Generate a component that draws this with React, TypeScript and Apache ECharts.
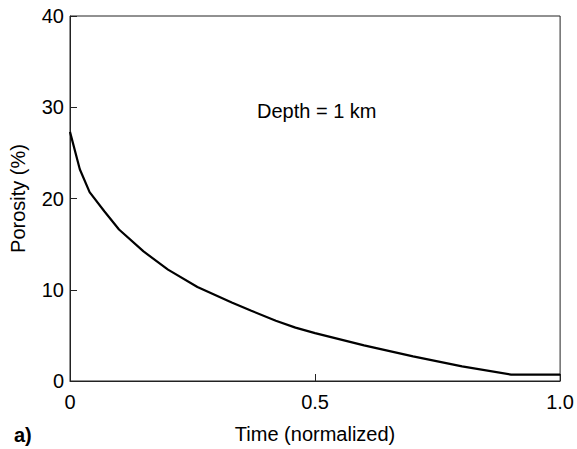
import React, { useEffect, useRef } from "react";
import * as echarts from "echarts";

const timeValues = [0, 0.02, 0.04, 0.07, 0.1, 0.15, 0.2, 0.26, 0.33, 0.37, 0.42, 0.46, 0.5, 0.6, 0.7, 0.8, 0.9, 1.0];
const porosityValues = [27.3, 23.2, 20.7, 18.6, 16.6, 14.2, 12.2, 10.3, 8.6, 7.7, 6.6, 5.85, 5.25, 3.9, 2.7, 1.6, 0.7, 0.7];
const xTickLabels: Record<string, string> = { "0": "0", "0.5": "0.5", "1": "1.0" };
const annotation = "Depth = 1 km";
const panelLabel = "a)";

const FONT = "'Liberation Sans', Arial, Helvetica, sans-serif";

export default function App() {
  const ref = useRef<HTMLDivElement>(null);
  useEffect(() => {
    document.body.style.margin = "0";
    if (!ref.current) return;
    const chart = echarts.init(ref.current, undefined, { renderer: "svg" });
    chart.setOption({
      animation: false,
      textStyle: { fontFamily: FONT },
      grid: {
        left: 70,
        top: 16,
        right: 15.5,
        bottom: 67.3,
        show: true,
        borderColor: "#222",
        borderWidth: 1,
      },
      xAxis: {
        type: "value",
        min: 0,
        max: 1,
        interval: 0.5,
        name: "Time (normalized)",
        nameLocation: "middle",
        nameGap: 43,
        nameTextStyle: { fontSize: 20, color: "#000", fontFamily: FONT },
        axisLine: { show: true, lineStyle: { color: "#222", width: 1 } },
        axisTick: { show: true, inside: true, length: 7, lineStyle: { color: "#222" } },
        axisLabel: {
          fontSize: 20,
          color: "#000",
          margin: 11,
          fontFamily: FONT,
          formatter: (v: number) => xTickLabels[String(v)] ?? String(v),
        },
        splitLine: { show: false },
      },
      yAxis: {
        type: "value",
        min: 0,
        max: 40,
        interval: 10,
        name: "Porosity (%)",
        nameLocation: "middle",
        nameGap: 42,
        nameTextStyle: { fontSize: 20, color: "#000", fontFamily: FONT },
        axisLine: { show: true, lineStyle: { color: "#222", width: 1 } },
        axisTick: { show: true, inside: true, length: 7, lineStyle: { color: "#222" } },
        axisLabel: { fontSize: 20, color: "#000", margin: 6, fontFamily: FONT },
        splitLine: { show: false },
      },
      graphic: [
        {
          type: "text",
          left: 14,
          top: 425,
          style: { text: panelLabel, font: `bold 20px ${FONT}`, fill: "#000" },
        },
        {
          type: "text",
          left: 257,
          top: 101,
          style: { text: annotation, font: `20px ${FONT}`, fill: "#000" },
        },
      ],
      series: [
        {
          type: "line",
          data: timeValues.map((t, i) => [t, porosityValues[i]]),
          showSymbol: false,
          smooth: false,
          lineStyle: { color: "#000", width: 2.2 },
        },
      ],
    });
    return () => chart.dispose();
  }, []);
  return <div ref={ref} style={{ width: 577, height: 449 }} />;
}
